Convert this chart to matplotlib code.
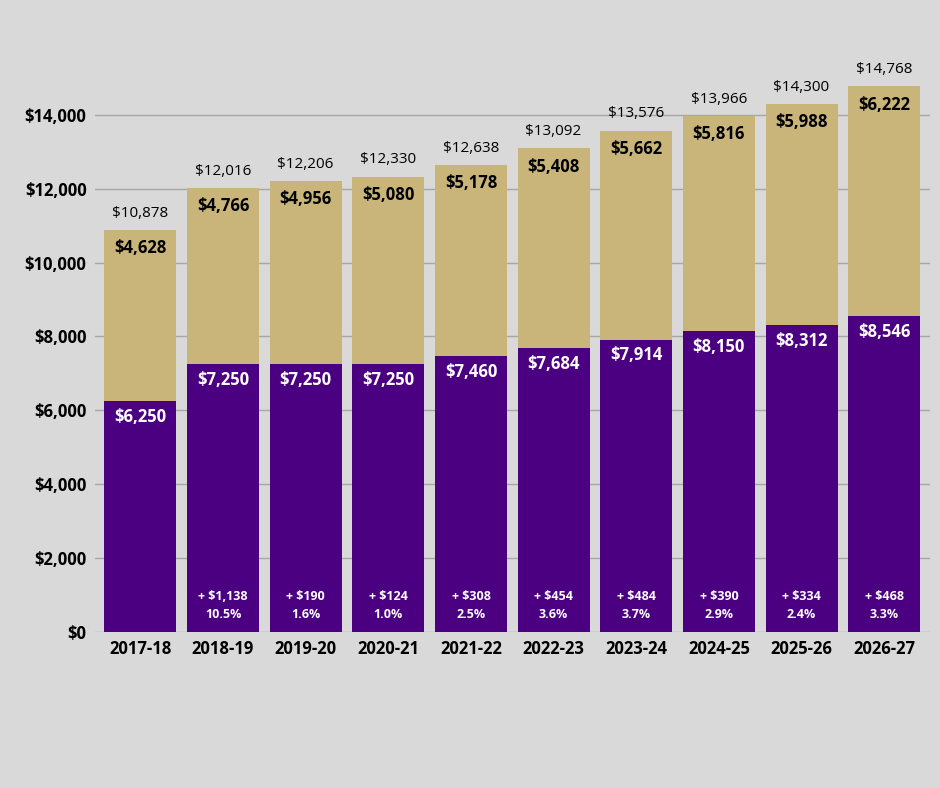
import matplotlib.pyplot as plt

years = ["2017-18","2018-19","2019-20","2020-21","2021-22","2022-23","2023-24","2024-25","2025-26","2026-27"]
tuition = [6250,7250,7250,7250,7460,7684,7914,8150,8312,8546]
housing = [4628,4766,4956,5080,5178,5408,5662,5816,5988,6222]
totals = [10878,12016,12206,12330,12638,13092,13576,13966,14300,14768]
inc_amt = [None,"1,138","190","124","308","454","484","390","334","468"]
inc_pct = [None,"10.5%","1.6%","1.0%","2.5%","3.6%","3.7%","2.9%","2.4%","3.3%"]

bg = "#d9d9d9"
purple = "#4b0082"
gold = "#c9b57a"
plt.rcParams['font.family'] = ['Open Sans', 'DejaVu Sans']

fig = plt.figure(figsize=(9.4, 7.88), dpi=100, facecolor=bg)
ax = fig.add_axes([0.101, 0.198, 0.888, 0.75], facecolor=bg)
x = range(len(years))
w = 0.87
ax.bar(x, tuition, width=w, color=purple, zorder=3)
ax.bar(x, housing, bottom=tuition, width=w, color=gold, zorder=3)
for i in x:
    ax.text(i, totals[i] + 250, f"${totals[i]:,}", ha='center', va='bottom', fontsize=11, color='black', zorder=4)
    ax.text(i, totals[i] - 250, f"${housing[i]:,}", ha='center', va='top', fontsize=12, fontweight='bold', color='black', zorder=4)
    ax.text(i, tuition[i] - 180, f"${tuition[i]:,}", ha='center', va='top', fontsize=12, fontweight='bold', color='white', zorder=4)
    if inc_amt[i]:
        ax.text(i, 300, f"+ ${inc_amt[i]}\n{inc_pct[i]}", ha='center', va='bottom', fontsize=9, fontweight='bold', color='white', linespacing=1.5, zorder=4)

ax.set_xlim(-0.55, 9.55)
ax.set_ylim(0, 16000)
ax.set_yticks(range(0, 14001, 2000))
ax.set_yticklabels([f"${v:,}" for v in range(0, 14001, 2000)], fontsize=12, fontweight='bold')
ax.set_xticks(list(x))
ax.set_xticklabels(years, fontsize=12, fontweight='bold')
ax.grid(axis='y', color='#a6a6a6', linewidth=1, zorder=0)
for s in ax.spines.values():
    s.set_visible(False)
ax.tick_params(length=0, pad=6)
fig.savefig("out.png", dpi=100, facecolor=bg)
